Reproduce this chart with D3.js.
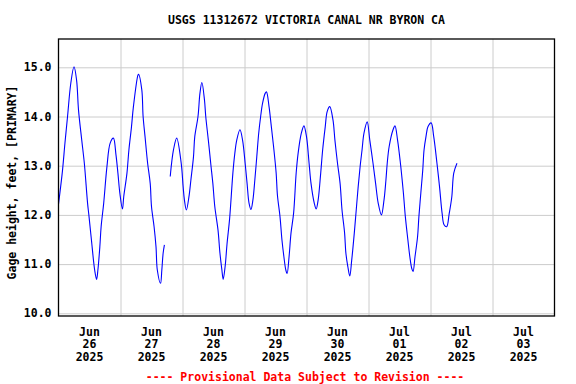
<!DOCTYPE html>
<html><head><meta charset="utf-8">
<script src="https://cdn.jsdelivr.net/npm/d3@7"></script>
<style>
body{margin:0;background:#fff}
svg{display:block}
text{font-family:"DejaVu Sans Mono","Liberation Mono",monospace;font-weight:bold;font-size:11.5px;fill:#000}
</style>
</head><body>
<svg id="chart" width="576" height="384"></svg>
<script>
const title = "USGS 11312672 VICTORIA CANAL NR BYRON CA";
const yLabel = "Gage height, feet, [PRIMARY]";
const footer = "---- Provisional Data Subject to Revision ----";
const startTime = "2025-06-26T00:00:00";
// hours since Jun 26 2025 00:00 (null value = gap in record)
const hours = [0,1.5,2.5,3.5,4.75,6,7,7.75,9,10,11.25,11.75,12.75,14,14.75,15.25,16,16.5,17.5,18.75,20,21.25,22.25,23,23.75,
24.75,25.25,26.5,27.25,28.25,29,30.75,31,32.25,32.75,33.5,34.5,35.5,36,37,37.75,38.25,39.5,40,40.5,41,42,
43.25,44.5,45.75,47.5,48.25,48.75,49.5,50.5,51.25,52.25,52.75,54,54.75,55.5,56.5,57,58,59,59.75,60.5,61.75,62.5,63.25,63.75,64.5,65.25,66.25,67.5,68.25,69,70.25,71.25,
72.25,73,73.75,74.5,75.25,76,76.75,77.5,78.25,79,80,80.5,81.5,82.25,83.25,84.25,84.75,85.75,86.5,87.25,88,88.5,89.25,90,91,92,92.75,94,95,
96,97,97.75,99,99.75,100.5,101.5,102.25,103.25,104,105,106.25,107,108,109,109.75,110.75,111.25,112,112.75,113.5,114.5,115.25,116,116.75,117.5,118.25,119.5,
120.5,121.75,122.75,123.75,125,126,126.75,127.25,128,129.5,130.25,131.25,132.25,133.5,134.25,135.25,136,136.75,137.25,138,139,139.5,140.25,141,141.5,142.25,143,
144.25,145.25,146.5,147.5,148.5,149.25,150.25,151.25,152.25,153,154.25];
const gageFt = [12.22,12.88,13.46,14.0,14.67,15.01,14.74,14.13,13.52,13.05,12.24,12.0,11.49,10.88,10.69,10.88,11.35,11.76,12.24,12.98,13.46,13.56,13.22,12.85,12.44,
12.12,12.37,12.85,13.32,13.79,14.2,14.84,14.86,14.54,14.0,13.59,13.05,12.64,12.17,11.76,11.35,10.88,10.61,10.88,11.22,11.39,null,
12.78,13.32,13.56,13.05,12.57,12.30,12.10,12.37,12.71,13.18,13.59,14.0,14.47,14.69,14.34,14.0,13.52,13.01,12.64,12.17,11.69,11.22,10.88,10.69,10.95,11.42,11.93,12.85,13.25,13.52,13.73,13.52,
13.05,12.64,12.24,12.11,12.30,12.71,13.18,13.66,14.0,14.27,14.47,14.50,14.2,13.86,13.39,12.85,12.40,11.96,11.49,11.15,10.88,10.81,11.15,11.63,12.03,12.85,13.25,13.66,13.81,
13.59,13.05,12.64,12.24,12.12,12.30,12.85,13.32,13.79,14.10,14.2,13.93,13.52,13.05,12.64,12.1,11.63,11.22,10.95,10.76,11.08,11.63,12.1,12.57,12.98,13.32,13.66,13.89,
13.52,13.05,12.64,12.24,12.0,12.3,12.71,13.05,13.39,13.73,13.81,13.52,13.1,12.45,11.97,11.49,11.15,10.91,10.85,11.15,11.56,11.96,12.44,12.91,13.32,13.59,13.79,
13.87,13.59,13.05,12.57,12.03,11.80,11.76,12.03,12.37,12.85,13.05];
const yTicks = [10,11,12,13,14,15];
const xDays = ["2025-06-26","2025-06-27","2025-06-28","2025-06-29","2025-06-30","2025-07-01","2025-07-02","2025-07-03","2025-07-04"];

const svg = d3.select("#chart");
const L = 58.5, R = 554.5, T = 39, B = 316;
const parse = d3.timeParse("%Y-%m-%d");
const t0 = d3.timeParse("%Y-%m-%dT%H:%M:%S")(startTime);
const days = xDays.map(parse);
const x = d3.scaleTime().domain([days[0], days[days.length-1]]).range([L, R]);
const y = d3.scaleLinear().domain([10, 15]).range([313.3, 67.3]);

const data = hours.map((h, i) => ({t: new Date(t0.getTime() + h*3600e3), v: gageFt[i]}));

// grid
const gx = svg.append("g").attr("transform", `translate(0,${B})`)
  .call(d3.axisBottom(x).tickValues(days.slice(1, -1)).tickSize(-(B-T)).tickFormat(""));
gx.select(".domain").remove();
gx.selectAll("line").attr("stroke", "#cccccc").attr("stroke-width", 1);
const gy = svg.append("g").attr("transform", `translate(${L},0)`)
  .call(d3.axisLeft(y).tickValues(yTicks).tickSize(-(R-L)).tickFormat(""));
gy.select(".domain").remove();
gy.selectAll("line").attr("stroke", "#cccccc").attr("stroke-width", 1);

// y labels
const ya = svg.append("g").attr("transform", `translate(${L},0)`)
  .call(d3.axisLeft(y).tickValues(yTicks).tickSize(0).tickPadding(7).tickFormat(d3.format(".1f")));
ya.select(".domain").remove();
ya.selectAll("text").attr("font-size", null).attr("font-family", null).style("fill", "#000");

// x labels (noon of each day)
const noon = days.slice(0, -1).map(d => new Date(d.getTime() + 12*3600e3));
const fmt = [d3.timeFormat("%b"), d3.timeFormat("%d"), d3.timeFormat("%Y")];
const xl = svg.append("g");
noon.forEach(d => {
  const tx = xl.append("text").attr("text-anchor", "middle").attr("x", x(d)).attr("y", 335.5);
  fmt.forEach((f, i) => tx.append("tspan").attr("x", x(d)).attr("dy", i === 0 ? 0 : 12.7).text(f(d)));
});

// line
const line = d3.line().defined(d => d.v != null).x(d => x(d.t)).y(d => y(d.v)).curve(d3.curveCatmullRom.alpha(0.5));
svg.append("path").datum(data).attr("d", line)
  .attr("fill", "none").attr("stroke", "#0000ff").attr("stroke-width", 1.1);

// frame
svg.append("rect").attr("x", L).attr("y", T).attr("width", R-L).attr("height", B-T)
  .attr("fill", "none").attr("stroke", "#000").attr("stroke-width", 1.3);

// title
svg.append("text").attr("x", (L+R)/2).attr("y", 24).attr("text-anchor", "middle").text(title);
// y axis title
svg.append("text").attr("transform", `translate(16,${(T+B)/2 + 5}) rotate(-90)`).attr("text-anchor", "middle").text(yLabel);
// footer
svg.append("text").attr("x", 305).attr("y", 381).attr("text-anchor", "middle").style("fill", "#ff0000").text(footer);
</script>
</body></html>
